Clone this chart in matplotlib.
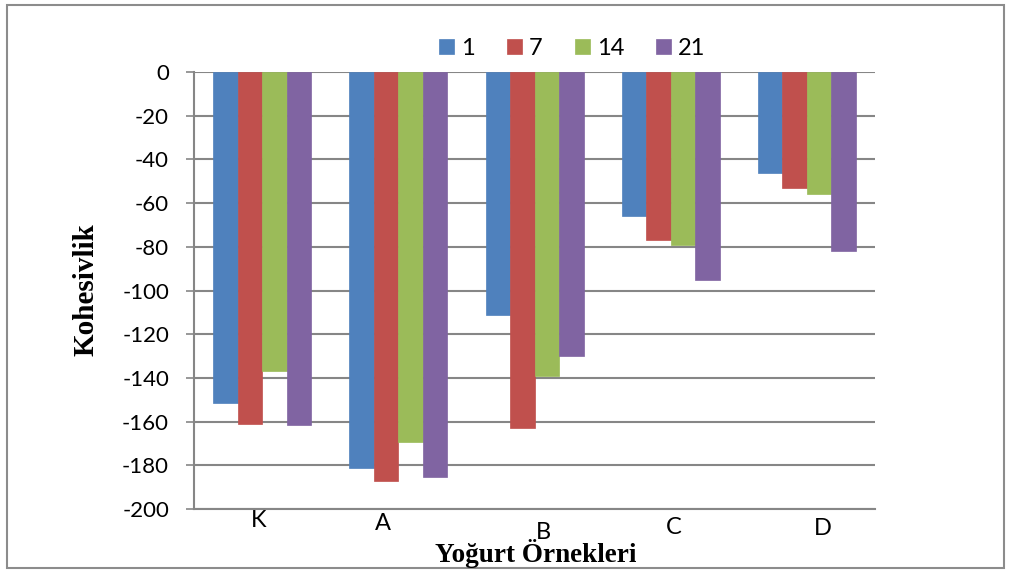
import numpy as np
import matplotlib.pyplot as plt
from matplotlib.patches import Rectangle
from matplotlib.transforms import ScaledTranslation

# Yoğurt örnekleri ve depolama günleri
samples = ["K", "A", "B", "C", "D"]
days = ["1", "7", "14", "21"]

day1 = [-151.5, -181, -111, -66, -46]
day7 = [-161, -187, -163, -77, -53]
day14 = [-137, -169.5, -139, -79, -56]
day21 = [-161.5, -185.5, -130, -95, -82]

y_ticks = list(range(0, -201, -20))

colors = ["#4F81BD", "#C0504D", "#9BBB59", "#8064A2"]
tick_font = "Lato"
title_font = "Liberation Serif"

fig = plt.figure(figsize=(10.12, 5.74), dpi=100)
ax = fig.add_axes([0.1917, 0.1132, 0.673, 0.7613])

x = np.arange(len(samples))
bar_w = 0.18
series = [day1, day7, day14, day21]
handles = []
for i, (vals, c) in enumerate(zip(series, colors)):
    offset = (i - 1.5) * bar_w
    b = ax.bar(x + offset, vals, width=bar_w, color=c, edgecolor=c,
               linewidth=0.5, zorder=3, label=days[i])
    handles.append(b)

ax.set_ylim(-200, 0)
ax.set_xlim(-0.5, len(samples) - 0.5)
ax.set_yticks(y_ticks)
ax.set_yticklabels([str(t) for t in y_ticks], fontsize=16, family=tick_font)
ax.yaxis.grid(True, color="#868686", linewidth=1.5, zorder=0)
ax.tick_params(axis="y", length=6, width=1.2, color="#868686", pad=12)

# kategori etiketleri, her biri biraz kaydırılmış (piksel)
ax.set_xticks(x)
ax.set_xticklabels(samples, fontsize=17, family=tick_font)
ax.tick_params(axis="x", length=0, pad=1)
shifts = [(-3, 0), (-15, -3), (9, -11.5), (3, -6.5), (15.5, -7.5)]
for lab, (dx, dy) in zip(ax.get_xticklabels(), shifts):
    lab.set_transform(lab.get_transform() +
                      ScaledTranslation(dx / 100, dy / 100, fig.dpi_scale_trans))

for side in ["top", "right"]:
    ax.spines[side].set_visible(False)
ax.spines["left"].set_color("#868686")
ax.spines["left"].set_linewidth(1.5)
ax.spines["bottom"].set_color("#868686")
ax.spines["bottom"].set_linewidth(1.5)

fig.text(0.085, 0.495, "Kohesivlik", rotation=90, ha="center", va="center",
         fontsize=21, fontweight="bold", family=title_font)
fig.text(0.5295, 0.036, "Yoğurt Örnekleri", ha="center", va="center",
         fontsize=19.5, fontweight="bold", family=title_font)

fig.legend(handles=handles, labels=days, loc="center", ncol=4,
           bbox_to_anchor=(0.5655, 0.916), frameon=False,
           handlelength=0.64, handleheight=0.64, handletextpad=0.3,
           columnspacing=1.35, prop={"family": tick_font, "size": 17})

# dış çerçeve
fig.patches.append(Rectangle((0.007, 0.01), 0.985, 0.982, transform=fig.transFigure,
                             fill=False, edgecolor="#8C8C8C", linewidth=1.5))

fig.savefig("out.png", dpi=100)
